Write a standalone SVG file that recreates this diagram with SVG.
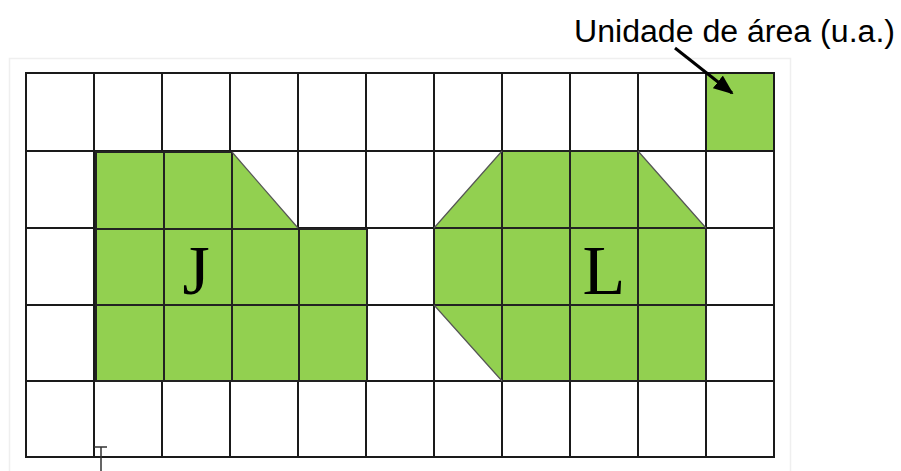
<svg xmlns="http://www.w3.org/2000/svg" width="901" height="471" viewBox="0 0 901 471">
<style>
.grid{stroke:#1a1a1a;stroke-width:2;fill:none}
.fig{fill:#92d050;stroke:none}
.edge{stroke:#222;stroke-width:2;fill:none}
.diag{stroke:#555;stroke-width:1.2;fill:none}
.big{font-family:"Liberation Serif","Times New Roman",serif;font-size:70px;fill:#000}
.lab{font-family:"Liberation Sans",Arial,sans-serif;font-size:31px;fill:#000}
</style>
<defs>
<marker id="ah" markerWidth="20" markerHeight="16" refX="18" refY="8" orient="auto" markerUnits="userSpaceOnUse" viewBox="0 0 20 16">
<path d="M0,0 L20,8 L0,16 Z" fill="#000"/>
</marker>
</defs>
<rect width="901" height="471" fill="#fff"/>
<rect x="9.5" y="58.5" width="781" height="420" fill="none" stroke="#efefef" stroke-width="1.5"/>
<g id="grid">
<path class="grid" d="M26,73V457M94,73V457M162,73V457M230,73V457M298,73V457M366,73V457M434,73V457M502,73V457M570,73V457M638,73V457M706,73V457M774,73V457"/>
<path class="grid" d="M25,73H775M25,151H775M25,228H775M25,305H775M25,381H775M25,457H775"/>
</g>
<g id="unit">
<rect class="fig" x="707" y="74" width="66" height="76"/>
</g>
<g id="figJ">
<polygon class="fig" points="95,152 232,152 298,228 367,228 367,381 95,381"/>
<path class="edge" d="M96,152V381M164,152V381M232,152V381M299,228V381M367,228V381M95,152H232M95,229H367M95,305H367M95,381H367"/>
<path class="diag" d="M232,152L298,228"/>
<text class="big" x="196" y="294" text-anchor="middle">J</text>
</g>
<g id="figL">
<polygon class="fig" points="434,228 502,151 638,151 706,228 706,381 502,381 434,305"/>
<path class="edge" d="M434,228V305M502,151V381M570,151V381M638,151V381M706,228V381M502,151H638M434,228H706M434,305H706M502,381H706"/>
<path class="diag" d="M434,228L502,151M638,151L706,228M434,305L502,381"/>
<text class="big" x="604" y="294" text-anchor="middle">L</text>
</g>
<g id="label">
<text class="lab" x="574" y="42" textLength="321" lengthAdjust="spacingAndGlyphs">Unidade de área (u.a.)</text>
</g>
<g id="connectors">
<line x1="675" y1="48" x2="732" y2="93" stroke="#000" stroke-width="3" marker-end="url(#ah)"/>
</g>
<g id="cursor">
<path d="M94,447H107M101,447V471" stroke="#333" stroke-width="1.5" fill="none"/>
</g>
</svg>
